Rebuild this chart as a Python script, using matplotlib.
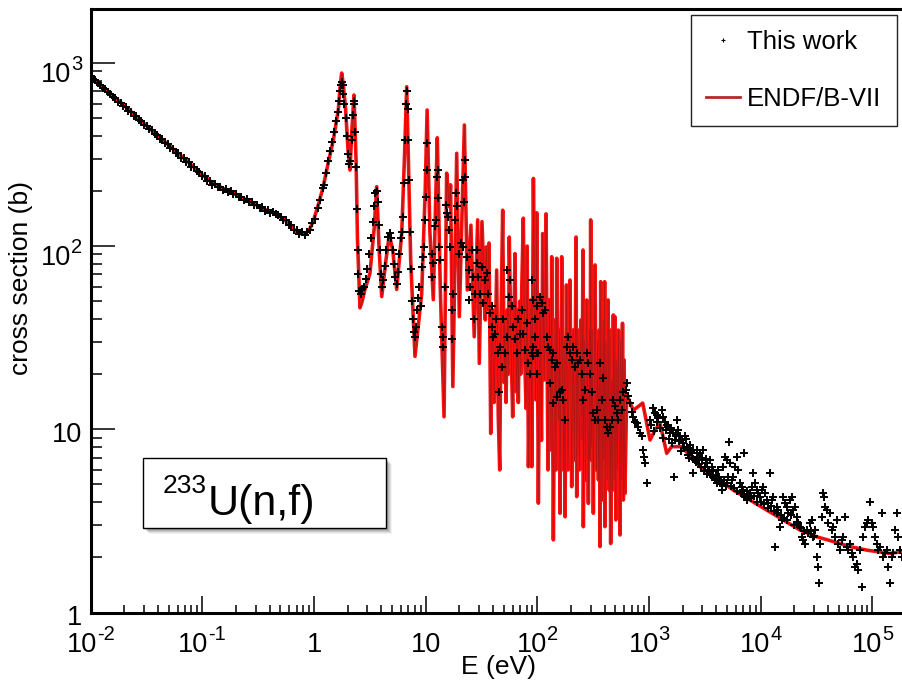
import numpy as np
import matplotlib
matplotlib.use('Agg')
import matplotlib.pyplot as plt
from matplotlib.lines import Line2D
from matplotlib.patches import Rectangle
from matplotlib.ticker import LogLocator, NullFormatter
from matplotlib.transforms import blended_transform_factory, offset_copy

## DATA #######################################################################
# ENDF/B-VII evaluation, E in eV, cross section in barn
e_endf = [0.010, 0.020, 0.040, 0.070, 0.100, 0.125, 0.150, 0.190, 0.260, 0.377,
          0.464, 0.570, 0.700, 0.800, 0.900, 0.986, 1.10, 1.21, 1.35, 1.49,
          1.65, 1.72, 1.77, 1.83, 1.92, 2.02, 2.10, 2.18, 2.28, 2.38,
          2.45, 2.58, 2.70, 2.86, 3.17, 3.47, 3.64, 3.82, 4.04, 4.41,
          4.72, 5.07, 5.50, 6.10, 6.45, 6.76, 7.05, 7.34, 8.02, 9.21,
          9.90, 10.3, 10.9, 11.7, 12.2, 12.7, 13.5, 14.6, 15.4, 16.3,
          16.7, 17.5, 18.95, 20.0, 22.2, 23.6, 25.4, 27.2, 29.2, 30.2,
          31.9, 34.2, 34.9, 35.8, 36.9, 38.2, 39.5, 41.0, 43.2, 44.6,
          46.0, 47.2, 48.9, 50.5, 51.0, 52.4, 54.0, 55.0, 56.0, 58.0,
          60.1, 61.5, 63.0, 65.0, 66.0, 67.5, 69.5, 71.0, 72.5, 74.8,
          77.0, 79.1, 81.0, 83.1, 87.7, 89.0, 92.1, 96.4, 98.7, 102,
          105.5, 108.8, 111.6, 115, 119.5, 124.4, 128.2, 132.5, 134.3, 139,
          143.9, 147, 148.9, 154, 158, 159.4, 165, 170.8, 174, 176.8,
          182, 188, 195.9, 202.8, 208.6, 215, 222, 225, 230, 238,
          245, 250, 256, 257.9, 263, 270, 276.4, 286, 293, 295.8,
          300, 305, 310, 317, 328, 338, 345, 352, 357.5, 363.5,
          369, 380, 388, 392, 400, 403, 412, 421, 430, 439,
          446.7, 453, 462.5, 471, 478.6, 488, 495.4, 504, 512.8, 522,
          530.6, 540, 549, 557, 568.5, 578, 588, 598, 608, 630,
          722, 877, 1019, 1130, 1253, 1438, 1592, 1958, 2856, 4026,
          5675, 8005, 11290, 15900, 22440, 31630, 44570, 62890, 88720, 143500,
          182400]
xs_endf = [845, 585, 400, 298, 245, 220, 208, 194, 176, 157,
           150, 136, 119, 116, 121, 137, 170, 211, 290, 379,
           553, 760, 880, 760, 553, 330, 260, 420, 668, 295,
           110, 46, 50, 58, 71, 128, 211, 99, 53, 84,
           115, 95, 58, 117, 300, 741, 250, 84, 25, 55,
           200, 553, 120, 51, 150, 390, 60, 11.7, 250, 164,
           216, 17.1, 321, 41.2, 458, 57.6, 130, 32, 139, 22.9,
           136, 39.5, 99, 45, 104, 9.5, 45, 14, 74, 12,
           6.0, 40, 157, 18, 40, 14, 45, 20, 112, 30,
           11.7, 35, 91, 16, 45, 14, 50, 20, 60, 142,
           25, 13, 100, 6.25, 50.8, 6.25, 234, 14.5, 152, 3.95,
           50.8, 8.7, 117, 18.6, 150, 6.0, 50.8, 7.7, 87.5, 2.49,
           39.5, 6.0, 85.8, 11.2, 34.8, 3.48, 87.5, 6.0, 30.7, 3.33,
           61.4, 6.0, 65.3, 4.86, 34.8, 6.8, 112, 4.29, 34.8, 6.0,
           39.5, 8.74, 95.2, 2.94, 30.7, 5.29, 50.8, 3.94, 34.8, 6.8,
           139, 8.0, 35, 3.48, 78.9, 6.0, 30.7, 5.29, 34.8, 2.29,
           63.9, 4.11, 39.5, 6.8, 63.9, 2.94, 30.7, 5.29, 50.8, 4.66,
           34.8, 2.38, 18.6, 4.66, 42.1, 5.29, 41.1, 3.2, 23.9, 6.0,
           34.8, 12, 2.65, 30.7, 5.29, 37.9, 4.11, 23.9, 4.47, 15.4,
           12.7, 13.9, 8.74, 9.9, 10.8, 7.4, 8.04, 8.04, 6.25, 5.40,
           4.66, 4.11, 3.63, 3.20, 2.82, 2.59, 2.44, 2.29, 2.19, 2.10,
           2.15]

# this work, thermal region
e_low = [0.0100, 0.0105, 0.0110, 0.0116, 0.0122, 0.0128, 0.0135, 0.0142, 0.0150, 0.0158,
         0.0167, 0.0176, 0.0186, 0.0196, 0.0207, 0.0218, 0.0230, 0.0243, 0.0256, 0.0270,
         0.0285, 0.0301, 0.0318, 0.0336, 0.0354, 0.0374, 0.0395, 0.0417, 0.0440, 0.0465,
         0.0490, 0.0518, 0.0547, 0.0577, 0.0609, 0.0643, 0.0679, 0.0717, 0.0757, 0.0800,
         0.0844, 0.0891, 0.0941, 0.0994, 0.105, 0.111, 0.117, 0.123, 0.130, 0.137,
         0.145, 0.153, 0.162, 0.171, 0.180, 0.190, 0.201, 0.212, 0.224, 0.236,
         0.249, 0.263, 0.278, 0.293, 0.310, 0.327, 0.345, 0.364, 0.385, 0.406,
         0.429, 0.453, 0.478, 0.505, 0.533, 0.563, 0.594, 0.627, 0.662, 0.699,
         0.738, 0.779, 0.823, 0.869, 0.917, 0.968, 1.02, 1.08, 1.14, 1.20]
xs_low = [845, 815, 802, 772, 758, 731, 719, 692, 680, 652,
          641, 615, 606, 580, 571, 549, 541, 516, 511, 488,
          482, 460, 455, 434, 430, 409, 405, 386, 382, 363,
          361, 342, 340, 323, 321, 304, 303, 287, 286, 271,
          269, 256, 254, 241, 240, 227, 226, 216, 218, 209,
          210, 203, 204, 197, 199, 192, 192, 185, 186, 179,
          180, 173, 174, 167, 168, 161, 163, 156, 158, 152,
          154, 149, 148, 145, 139, 139, 131, 131, 123, 123,
          116, 119, 115, 120, 122, 134, 141, 162, 178, 207]

# this work, resolved resonances 1-9 eV
e_res = [1.22, 1.28, 1.34, 1.40, 1.46, 1.52, 1.58, 1.63, 1.68, 1.72,
         1.75, 1.78, 1.80, 1.83, 1.87, 1.92, 1.97, 2.02, 2.07, 2.12,
         2.17, 2.22, 2.26, 2.30, 2.34, 2.38, 2.42, 2.46, 2.50, 2.55,
         2.62, 2.70, 2.80, 2.90, 3.00, 3.10, 3.25, 3.35, 3.45, 3.55,
         3.65, 3.72, 3.80, 3.88, 3.95, 4.05, 4.15, 4.30, 4.45, 4.60,
         4.75, 4.90, 5.05, 5.20, 5.35, 5.50, 5.65, 5.80, 5.95, 6.10,
         6.25, 6.40, 6.55, 6.68, 6.78, 6.90, 7.00, 7.10, 7.25, 7.40,
         7.55, 7.70, 7.85, 8.00, 8.15, 8.35, 8.60, 8.80]
xs_res = [215, 250, 290, 330, 370, 420, 480, 540, 620, 700,
          760, 790, 760, 680, 600, 500, 400, 320, 280, 290,
          380, 520, 620, 600, 420, 270, 160, 95, 70, 57,
          55, 58, 60, 66, 75, 90, 110, 135, 165, 195,
          200, 175, 130, 95, 70, 60, 65, 78, 95, 112,
          118, 110, 95, 80, 68, 62, 72, 90, 110, 120,
          145, 220, 380, 600, 700, 560, 380, 230, 120, 75,
          50, 40, 34, 32, 36, 45, 52, 60]

# this work, 9-100 eV
e_mid = [9.03, 9.21, 9.40, 9.67, 9.87, 10.07, 10.2, 10.35, 11.3, 11.5,
         11.7, 12.1, 12.4, 12.6, 12.8, 12.8, 13.1, 13.4, 13.9, 14.2,
         14.3, 14.9, 15.2, 15.6, 15.9, 16.2, 16.5, 17.1, 17.2, 17.7,
         18.3, 18.7, 19.2, 20.0, 20.6, 21.5, 21.5, 22.1, 22.3, 22.6,
         23.4, 24.2, 24.6, 24.9, 25.8, 26.7, 27.1, 27.7, 28.7, 29.0,
         29.7, 30.6, 31.7, 32.8, 34.0, 35.2, 36.4, 37.7, 39.0, 39.0,
         40.4, 41.8, 42.7, 44.0, 45.3, 46.3, 48.0, 49.6, 51.4, 53.2,
         53.9, 56.2, 56.9, 58.9, 60.9, 63.1, 65.3, 67.6, 69.9, 72.4,
         74.9, 77.6, 80.3, 83.1, 85.9, 89.0, 92.1, 95.3, 98.7]
xs_mid = [47, 77, 87, 99, 139, 186, 364, 260, 91, 68,
          81, 128, 139, 239, 260, 182, 99, 84, 36, 28,
          32, 60, 168, 151, 145, 122, 99, 45, 31, 55,
          139, 194, 165, 91, 104, 230, 99, 173, 295, 239,
          87, 74, 51, 60, 95, 68, 40, 55, 81, 95,
          68, 55, 77, 49, 65, 71, 55, 43, 47, 36,
          32, 33, 40, 26, 16, 28, 22, 40, 26, 32,
          74, 53, 65, 47, 36, 31, 26, 40, 33, 45,
          33, 27, 38, 23, 20, 26, 28, 32, 26]

# this work, 100-600 eV
e_unr = [89.0, 92.1, 95.3, 98.7, 105.5, 109.2, 113, 117, 92.1, 98.7,
         102, 121, 125, 130, 134, 139, 144, 149, 130, 139,
         149, 159, 165, 171, 177, 183, 189, 196, 203, 210,
         217, 225, 233, 241, 249, 258, 267, 276, 286, 296,
         306, 317, 328, 340, 351, 364, 376, 390, 403, 417,
         432, 447, 463, 479, 495, 513, 531, 549, 569, 588]
xs_unr = [65, 51, 40, 47, 53, 49, 43, 45, 25, 20,
          26, 32, 28, 27, 24, 26, 22, 23, 18, 14,
          15, 16, 16.4, 14.5, 11.2, 28, 32, 26, 24, 28,
          22, 26, 23, 24, 20, 14.5, 16.4, 26, 23, 20,
          16, 12.2, 11.2, 12.8, 11.2, 23, 14.5, 19, 11.2, 10.3,
          9.5, 10.3, 11.2, 14.5, 13.4, 12.2, 11.2, 14.5, 12.8, 16]

# this work, above 600 eV
e_high = [621, 630, 651, 675, 699, 722, 748, 774, 801, 829,
          859, 887, 900, 919, 951, 1019, 1090, 1129, 1169, 1209,
          1297, 1340, 1387, 1436, 1485, 1539, 1647, 1670, 1705, 1765,
          1825, 1891, 1958, 2024, 2095, 2169, 2243, 2324, 2407, 2487,
          2487, 2574, 2666, 2757, 2856, 2958, 3056, 3165, 3276, 3387,
          3510, 3635, 3756, 3889, 4026, 4163, 4313, 4467, 4615, 4779,
          4947, 5115, 5220, 5301, 5490, 5672, 5873, 6080, 6287, 6514,
          6746, 6970, 7120, 7218, 7472, 7725, 8005, 8290, 8566, 8869,
          9182, 9493, 9835, 10185, 10524, 10897, 11281, 11664, 12090, 12520,
          12937, 13396, 13867, 14339, 14860, 15389, 15900, 16465, 17045, 17624,
          18260, 18910, 19538, 20232, 20944, 21656, 22440, 23239, 24011, 24864,
          25739, 26614, 27580, 28562, 29511, 30559, 31634, 32710, 33300, 33890,
          35097, 35700, 36800, 37550, 38871, 40194, 41640, 43122, 44555, 46137,
          47761, 49385, 51180, 53002, 54763, 56708, 58704, 60700, 62890, 65129,
          67293, 69683, 72135, 74588, 77290, 80041, 82701, 85638, 88652, 91666,
          94970, 98351, 101620, 105228, 108932, 112636, 116700, 120854, 124870, 129305,
          133856, 138408, 143500, 148609, 153545, 158997, 164594, 170190, 176300, 182575]
xs_high = [16.4, 17.8, 15.1, 13.9, 12.5, 11.7, 11.0, 10.8, 10.3, 9.5,
           9.16, 7.71, 7.09, 6.52, 5.07, 11.24, 13.1, 12.2, 11.0, 11.5,
           12.8, 11.7, 11.0, 10.6, 10.3, 9.5, 9.5, 5.5, 8.74, 11.24,
           9.91, 9.16, 8.74, 8.38, 9.16, 8.04, 7.71, 8.2, 7.39, 7.71,
           5.75, 6.8, 7.71, 7.09, 7.39, 6.8, 7.71, 6.25, 6.52, 6.0,
           6.8, 6.25, 5.52, 5.29, 5.07, 6.0, 5.07, 4.66, 6.25, 7.09,
           6.8, 5.52, 8.56, 6.52, 5.29, 5.52, 6.25, 7.09, 6.0, 5.07,
           4.86, 4.66, 7.39, 4.29, 4.11, 4.29, 4.47, 4.86, 5.75, 5.07,
           4.66, 4.47, 4.29, 4.66, 4.86, 4.47, 4.11, 3.94, 5.75, 4.11,
           4.29, 2.29, 3.78, 3.63, 2.94, 3.2, 4.29, 3.94, 3.78, 3.48,
           4.11, 4.29, 3.63, 3.78, 3.33, 3.07, 2.94, 2.59, 2.49, 2.38,
           2.82, 2.70, 3.07, 3.2, 2.59, 2.82, 2.02, 1.78, 1.44, 2.38,
           3.33, 4.47, 4.29, 3.78, 3.63, 3.07, 3.48, 2.82, 2.94, 2.59,
           3.2, 2.38, 2.19, 2.49, 2.59, 3.33, 2.29, 2.19, 2.38, 2.10,
           2.02, 1.78, 1.85, 1.71, 2.19, 1.38, 2.59, 2.94, 3.07, 3.2,
           4.03, 3.07, 2.94, 2.59, 2.38, 2.19, 2.29, 3.48, 2.02, 2.10,
           2.19, 1.78, 1.44, 2.02, 2.10, 2.82, 3.48, 2.59, 2.19, 2.02]

# this work, extra points of the dense 1-30 keV band
e_band = [1050, 1110, 1180, 1260, 1320, 1420, 1500, 1580, 1620, 1740,
          1860, 1930, 2060, 2130, 2210, 2290, 2360, 2450, 2620, 2700,
          2800, 2900, 3000, 3110, 3220, 3330, 3450, 3570, 3700, 3950,
          4090, 4240, 4390, 4540, 4700, 4860, 5030, 5400, 5770, 6180,
          6620, 7100, 7600, 8150, 8700, 9340, 10000, 10700, 11500, 12300,
          13200, 14100, 15100, 16200, 17300, 18600, 19900, 21300, 22800, 24400,
          26200, 28000, 30000]
xs_band = [10.5, 9.8, 12.0, 10.2, 9.0, 9.9, 8.9, 10.1, 8.4, 9.3,
           8.6, 7.6, 7.9, 8.8, 7.2, 7.0, 7.6, 6.9, 6.6, 7.4,
           6.5, 6.2, 7.0, 5.9, 6.9, 5.7, 6.0, 5.6, 5.9, 5.6,
           5.4, 5.5, 5.2, 5.0, 5.3, 4.9, 5.1, 4.9, 4.8, 4.6,
           4.5, 4.4, 4.6, 4.2, 4.3, 4.0, 4.0, 3.9, 3.7, 3.8,
           3.6, 3.5, 3.4, 3.3, 3.2, 3.4, 3.0, 3.1, 2.9, 2.8,
           2.7, 2.8, 2.6]

# tick labels: mantissa and exponent (ROOT style, big superscripts)
x_ticks = [1e-2, 1e-1, 1, 10, 1e2, 1e3, 1e4, 1e5]
x_base = ['10', '10', '1', '10', '10', '10', '10', '10']
x_exp = ['-2', '-1', '', '', '2', '3', '4', '5']
y_ticks = [1, 10, 1e2, 1e3]
y_base = ['1', '10', '10', '10']
y_exp = ['', '', '2', '3']

## STYLE ######################################################################
plt.rcParams['font.family'] = ['Liberation Sans', 'DejaVu Sans']

W, H = 903, 686
fig = plt.figure(figsize=(W / 100, H / 100), dpi=100)
ax = fig.add_axes([90.6 / W, (H - 612.5) / H, (W - 90.6) / W, (612.5 - 9) / H])

def fx(px):
    return px / W

def fy(py):
    return 1 - py / H

F_BASE, F_EXP = 19.5, 14.5

def text_width(s, size):
    # advance widths of Liberation Sans glyphs, in points
    return sum(0.333 if c == '-' else 0.556 for c in s) * size

## PLOT #######################################################################
ax.plot(e_endf, xs_endf, color='#ff1010', lw=2.6, zorder=2)
ax.plot(e_endf, xs_endf, color='#b01616', lw=0.6, zorder=2)

e_all = e_low + e_res + e_mid + e_unr + e_high + e_band
xs_all = xs_low + xs_res + xs_mid + xs_unr + xs_high + xs_band
ax.plot(e_all, xs_all, ls='none', marker='+', ms=5.5, mew=1.4, color='black', zorder=3)

ax.set_xscale('log')
ax.set_yscale('log')
ax.set_xlim(1e-2, 1.876e5)
ax.set_ylim(1, 1968)

ax.spines['right'].set_visible(False)
for s in ['left', 'bottom', 'top']:
    ax.spines[s].set_linewidth(2.2)

ax.xaxis.set_minor_locator(LogLocator(base=10, subs=np.arange(2, 10), numticks=100))
ax.yaxis.set_minor_locator(LogLocator(base=10, subs=np.arange(2, 10), numticks=100))
ax.xaxis.set_minor_formatter(NullFormatter())
ax.yaxis.set_minor_formatter(NullFormatter())
ax.set_xticks(x_ticks)
ax.set_yticks(y_ticks)

ax.tick_params(which='both', direction='in', top=False, right=False,
               labelbottom=False, labelleft=False)
ax.tick_params(axis='y', which='major', length=17, width=1.1)
ax.tick_params(axis='y', which='minor', length=8, width=1.1)
ax.tick_params(axis='x', which='major', length=12, width=1.1)
ax.tick_params(axis='x', which='minor', length=6, width=1.1)

# x tick labels
tx = blended_transform_factory(ax.transData, ax.transAxes)
for t, b, e in zip(x_ticks, x_base, x_exp):
    wb, we = text_width(b, F_BASE), text_width(e, F_EXP)
    x0 = -(wb + we) / 2
    ax.text(t, 0, b, transform=offset_copy(tx, fig=fig, x=x0, y=-28.4, units='points'),
            ha='left', va='baseline', fontsize=F_BASE, clip_on=False)
    if e:
        ax.text(t, 0, e, transform=offset_copy(tx, fig=fig, x=x0 + wb, y=-19.8, units='points'),
                ha='left', va='baseline', fontsize=F_EXP, clip_on=False)

# y tick labels
ty = blended_transform_factory(ax.transAxes, ax.transData)
for t, b, e in zip(y_ticks, y_base, y_exp):
    we = text_width(e, F_EXP)
    yb = -13.7 if e else -9.0
    ax.text(0, t, b, transform=offset_copy(ty, fig=fig, x=-6 - we, y=yb, units='points'),
            ha='right', va='baseline', fontsize=F_BASE, clip_on=False)
    if e:
        ax.text(0, t, e, transform=offset_copy(ty, fig=fig, x=-6, y=yb + 8.6, units='points'),
                ha='right', va='baseline', fontsize=F_EXP, clip_on=False)

ax.set_xlabel('E (eV)', fontsize=19)
ax.xaxis.set_label_coords(0.5015, -0.0704)
ax.set_ylabel('cross section (b)', fontsize=19)
ax.yaxis.set_label_coords(-0.0709, 0.554)

## legend
h1 = Line2D([], [], ls='none', marker='+', ms=3.5, mew=0.8, color='black')
h2 = Line2D([], [], color='#b22a2a', lw=2)
leg = ax.legend([h1, h2], ['This work', 'ENDF/B-VII'], loc='upper right',
                bbox_to_anchor=(fx(897), fy(15)), bbox_transform=fig.transFigure,
                fontsize=18.5, frameon=True, fancybox=False, edgecolor='#222222',
                framealpha=1, borderpad=0.6, labelspacing=1.25, handlelength=1.3,
                handletextpad=0.3, borderaxespad=0)
leg.get_frame().set_linewidth(1.0)

## reaction label box with soft shadow
bx0, by0, bx1, by1 = 143, 458, 386, 528
for off, a in [(6, 0.05), (5, 0.07), (4, 0.09), (3, 0.11), (2, 0.12)]:
    fig.patches.append(Rectangle((fx(bx0 + off), fy(by1 + off)), (bx1 - bx0) / W, (by1 - by0) / H,
                                 transform=fig.transFigure, facecolor='black', edgecolor='none',
                                 alpha=a, zorder=4))
fig.patches.append(Rectangle((fx(bx0), fy(by1)), (bx1 - bx0) / W, (by1 - by0) / H,
                             transform=fig.transFigure, facecolor='white', edgecolor='black',
                             lw=1.0, zorder=5))
fig.text(fx(162.7), fy(493), '233', fontsize=19, va='baseline', ha='left', zorder=6)
fig.text(fx(208), fy(515), 'U(n,f)', fontsize=31, va='baseline', ha='left', zorder=6)

fig.savefig('out.png', dpi=100)
